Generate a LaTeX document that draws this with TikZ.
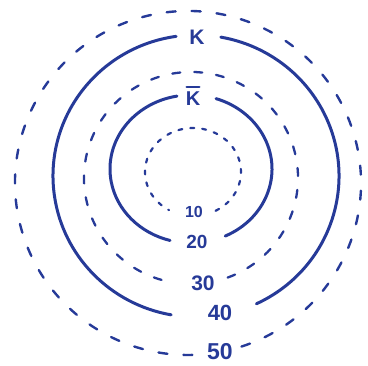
\documentclass[tikz,border=0pt]{standalone}
\usepackage{fontspec}
\setmainfont{Liberation Sans}
\definecolor{handblue}{RGB}{38,58,152}
\begin{document}
\begin{tikzpicture}[x=1pt,y=1pt,
  solidring/.style={draw=handblue,line width=3pt,line cap=round},
  dashring/.style={draw=handblue,line width=2.3pt,line cap=round,dash pattern=on 8pt off 14pt},
  dotring/.style={draw=handblue,line width=2.2pt,line cap=round,dash pattern=on 4pt off 8pt},
  bigdash/.style={draw=handblue,line width=2.4pt,line cap=round,dash pattern=on 9pt off 16pt},
  lab/.style={text=handblue,inner sep=0pt},
  barline/.style={draw=handblue,line width=2.2pt,line cap=round}]
\useasboundingbox (0,0) rectangle (368,366);
% ring 10 (dotted)
\draw[dotring] (193,194) ++(-62:48 and 44) arc[start angle=-62,end angle=240,x radius=48,y radius=44];
% ring 20 (solid)
\draw[solidring] (191,197) ++(100:81 and 74) arc[start angle=100,end angle=255,x radius=81,y radius=74];
\draw[solidring] (191,197) ++(-65:81 and 74) arc[start angle=-65,end angle=72,x radius=81,y radius=74];
% ring 30 (dashed)
\draw[dashring] (191,188) ++(-70:107 and 106) arc[start angle=-70,end angle=258,x radius=107,y radius=106];
% ring 40 (solid)
\draw[solidring] (196,190) ++(98:143 and 141) arc[start angle=98,end angle=260,x radius=143,y radius=141];
\draw[solidring] (196,190) ++(-65:143 and 141) arc[start angle=-65,end angle=80,x radius=143,y radius=141];
% ring 50 (dashed)
\draw[bigdash] (188,183) ++(-72:173 and 172) arc[start angle=-72,end angle=272,x radius=173,y radius=172];
% labels
\node[lab,font=\fontsize{21}{21}\selectfont\bfseries] (k) at (197,329) {K};
\node[lab,font=\fontsize{20}{20}\selectfont\bfseries] (kbar) at (193,267) {K};
\draw[barline] ([xshift=1pt,yshift=5pt]kbar.north west) -- ([xshift=-1pt,yshift=5pt]kbar.north east);
\node[lab,font=\fontsize{16}{16}\selectfont\bfseries] (l10) at (194,154) {10};
\node[lab,font=\fontsize{19}{19}\selectfont\bfseries] (l20) at (197,124) {20};
\node[lab,font=\fontsize{21}{21}\selectfont\bfseries] (l30) at (203,83) {30};
\node[lab,font=\fontsize{22}{22}\selectfont\bfseries] (l40) at (220,53) {40};
\node[lab,font=\fontsize{23}{23}\selectfont\bfseries] (l50) at (220,14) {50};
\end{tikzpicture}
\end{document}
